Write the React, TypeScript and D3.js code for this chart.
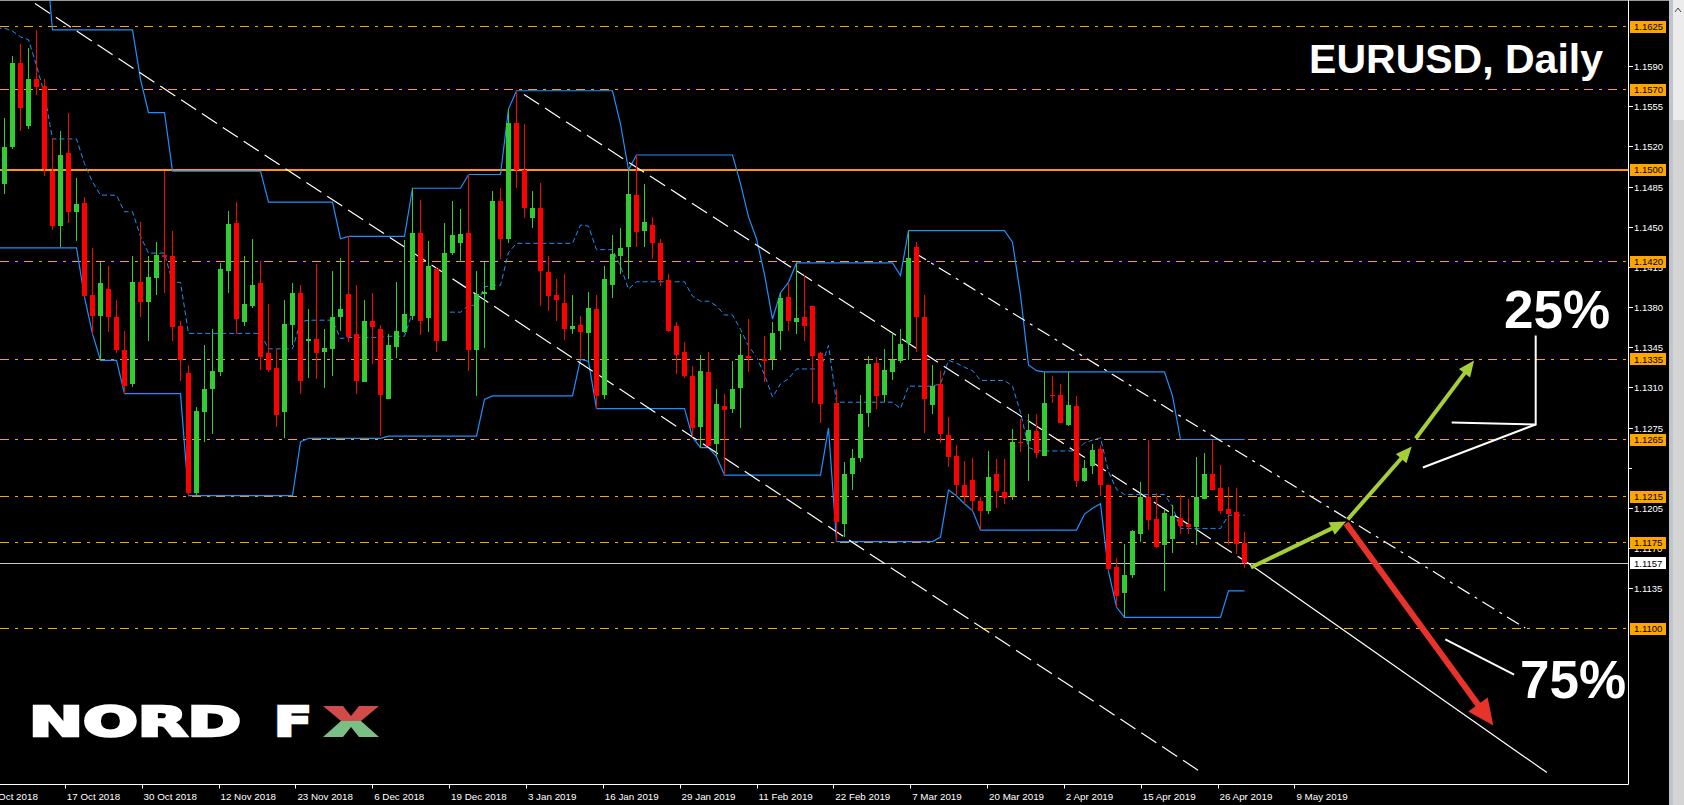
import React from "react";
import * as d3 from "d3";

const W = 1684;
const H = 805;

// Daily EURUSD bars. Index of the first element is FIRST_BAR (the first 12 bars are
// left of the visible area and only feed the 13-bar price channel).
const FIRST_BAR = -12;
const open = [
  1.1745, 1.175, 1.1765, 1.174, 1.164, 1.1605, 1.1575, 1.1548, 1.148, 1.1515, 1.1524, 1.149,
  1.1488, 1.152, 1.1593, 1.1538, 1.1579, 1.1573, 1.1499, 1.1451, 1.1515, 1.1463,
  1.1471, 1.1391, 1.1373, 1.1396, 1.1372, 1.1343, 1.1313, 1.1402, 1.1385, 1.1406,
  1.1426, 1.1425, 1.1364, 1.1323, 1.1218, 1.1289, 1.1309, 1.1324, 1.1412, 1.1454,
  1.1367, 1.1381, 1.1401, 1.134, 1.1327, 1.1289, 1.1365, 1.1393, 1.1351, 1.1353,
  1.1341, 1.1344, 1.1372, 1.1392, 1.1357, 1.1315, 1.1368, 1.1361, 1.13, 1.1346,
  1.1359, 1.1373, 1.1445, 1.1371, 1.1414, 1.1351, 1.1428, 1.1436, 1.1445, 1.1343,
  1.1392, 1.1395, 1.1473, 1.144, 1.1541, 1.15, 1.1458, 1.1467, 1.1411, 1.1391,
  1.1384, 1.1361, 1.1365, 1.1358, 1.1379, 1.1304, 1.14, 1.1425, 1.1433, 1.1478,
  1.1447, 1.1452, 1.1436, 1.1404, 1.1364, 1.1341, 1.132, 1.1276, 1.1324, 1.1261,
  1.1294, 1.1292, 1.131, 1.1338, 1.1337, 1.1335, 1.1335, 1.136, 1.1389, 1.1367,
  1.1372, 1.1381, 1.134, 1.1306, 1.1297, 1.1191, 1.1235, 1.1249, 1.1288, 1.1332,
  1.1304, 1.1324, 1.1333, 1.1349, 1.1433, 1.1372, 1.1295, 1.1313, 1.1269, 1.1251,
  1.1225, 1.123, 1.1211, 1.1203, 1.1235, 1.1219, 1.1216, 1.1263, 1.1264, 1.1272,
  1.1251, 1.1304, 1.1304, 1.1278, 1.1294, 1.1229, 1.1242, 1.1257, 1.1225, 1.1154,
  1.1131, 1.1147, 1.1183, 1.1215, 1.1196, 1.1173, 1.1178, 1.1197, 1.1191, 1.1189,
  1.1213, 1.1235, 1.1223, 1.1204, 1.1202, 1.1175,
];
const high = [
  1.1815, 1.181, 1.18, 1.1795, 1.175, 1.17, 1.16, 1.159, 1.153, 1.153, 1.1528, 1.15,
  1.1545, 1.1599, 1.161, 1.1606, 1.1622, 1.1579, 1.1528, 1.1534, 1.155, 1.1493,
  1.1476, 1.1432, 1.142, 1.1416, 1.1387, 1.136, 1.1425, 1.1455, 1.1425, 1.1437,
  1.1499, 1.1447, 1.1368, 1.133, 1.1293, 1.1347, 1.1361, 1.1419, 1.1464, 1.1472,
  1.1425, 1.144, 1.1421, 1.1383, 1.1344, 1.1387, 1.1401, 1.14, 1.1379, 1.1418,
  1.1361, 1.1412, 1.1423, 1.1442, 1.14, 1.1387, 1.1393, 1.1365, 1.1357, 1.1402,
  1.1439, 1.1484, 1.1474, 1.1438, 1.1415, 1.1454, 1.1473, 1.1466, 1.1496, 1.1412,
  1.142, 1.1482, 1.1484, 1.1553, 1.1569, 1.154, 1.1482, 1.1489, 1.1425, 1.1405,
  1.1409, 1.1391, 1.1373, 1.1394, 1.1391, 1.1416, 1.1443, 1.1449, 1.15, 1.1513,
  1.1488, 1.1459, 1.144, 1.1409, 1.1367, 1.135, 1.1329, 1.1339, 1.1341, 1.1309,
  1.1305, 1.1333, 1.1357, 1.137, 1.1365, 1.1355, 1.1367, 1.1393, 1.1402, 1.1419,
  1.1408, 1.1381, 1.1341, 1.1318, 1.1309, 1.1245, 1.1257, 1.1304, 1.1338, 1.1337,
  1.1344, 1.1358, 1.1361, 1.1447, 1.1437, 1.1391, 1.133, 1.1325, 1.1285, 1.126,
  1.1246, 1.1249, 1.1215, 1.1255, 1.1248, 1.1248, 1.1274, 1.1283, 1.1287, 1.1287,
  1.1324, 1.132, 1.1313, 1.1324, 1.1303, 1.1247, 1.1261, 1.126, 1.1225, 1.1162,
  1.1174, 1.1186, 1.1228, 1.1265, 1.1218, 1.1204, 1.1208, 1.1217, 1.1213, 1.125,
  1.1253, 1.1265, 1.1243, 1.1224, 1.1223, 1.1184,
];
const low = [
  1.1735, 1.1735, 1.1735, 1.164, 1.16, 1.157, 1.15, 1.146, 1.1463, 1.148, 1.144, 1.1432,
  1.1479, 1.1518, 1.1534, 1.1536, 1.1565, 1.1495, 1.1448, 1.1433, 1.1454, 1.1438,
  1.1389, 1.1357, 1.1334, 1.1359, 1.134, 1.1305, 1.1311, 1.1372, 1.1351, 1.1391,
  1.1393, 1.1351, 1.1316, 1.1216, 1.1216, 1.1263, 1.127, 1.132, 1.1393, 1.1357,
  1.1364, 1.138, 1.1326, 1.1324, 1.1276, 1.1266, 1.1347, 1.1305, 1.1319, 1.1318,
  1.131, 1.132, 1.136, 1.135, 1.1305, 1.1315, 1.1331, 1.1268, 1.13, 1.1336,
  1.1358, 1.1369, 1.1356, 1.1359, 1.1341, 1.1351, 1.1426, 1.142, 1.1325, 1.1303,
  1.1345, 1.1395, 1.1422, 1.1436, 1.1484, 1.1458, 1.1449, 1.1381, 1.1377, 1.1368,
  1.1352, 1.1357, 1.1335, 1.1333, 1.1292, 1.13, 1.1388, 1.1409, 1.1405, 1.1433,
  1.1433, 1.1422, 1.1399, 1.1359, 1.1322, 1.1319, 1.1267, 1.1258, 1.1259, 1.125,
  1.1234, 1.1288, 1.1275, 1.1324, 1.1325, 1.1315, 1.1326, 1.1343, 1.136, 1.1357,
  1.1351, 1.1297, 1.1279, 1.129, 1.1176, 1.118, 1.1221, 1.1245, 1.1276, 1.1292,
  1.1298, 1.1317, 1.1332, 1.1334, 1.1341, 1.1271, 1.1287, 1.1262, 1.1241, 1.1216,
  1.1209, 1.1203, 1.1186, 1.12, 1.1205, 1.1209, 1.1212, 1.1254, 1.1229, 1.1249,
  1.1251, 1.1297, 1.1279, 1.1277, 1.1224, 1.1228, 1.1235, 1.1216, 1.115, 1.1119,
  1.111, 1.1144, 1.1176, 1.1186, 1.117, 1.1133, 1.1166, 1.1183, 1.1183, 1.1173,
  1.1213, 1.1221, 1.12, 1.1173, 1.1165, 1.1153,
];
const close = [
  1.175, 1.1765, 1.174, 1.164, 1.1605, 1.1575, 1.1548, 1.148, 1.1515, 1.1524, 1.149, 1.149,
  1.152, 1.1593, 1.1554, 1.1579, 1.1572, 1.1501, 1.1451, 1.1513, 1.1463, 1.147,
  1.139, 1.1373, 1.1401, 1.1372, 1.1343, 1.1312, 1.1402, 1.1385, 1.1407, 1.1426,
  1.1424, 1.1363, 1.1334, 1.1218, 1.129, 1.1309, 1.1325, 1.1414, 1.1453, 1.137,
  1.1383, 1.14, 1.1337, 1.1326, 1.1286, 1.1366, 1.1393, 1.1316, 1.1353, 1.134,
  1.1345, 1.1372, 1.1379, 1.1354, 1.1316, 1.1368, 1.1363, 1.1304, 1.1347, 1.136,
  1.1374, 1.1445, 1.1368, 1.1416, 1.1351, 1.1428, 1.1443, 1.1444, 1.1343, 1.1392,
  1.1394, 1.1473, 1.144, 1.1541, 1.15, 1.1467, 1.1467, 1.1412, 1.139, 1.1387,
  1.1361, 1.1364, 1.1359, 1.138, 1.1303, 1.1405, 1.1427, 1.1432, 1.1479, 1.1446,
  1.1455, 1.1436, 1.1404, 1.136, 1.1339, 1.132, 1.1275, 1.1325, 1.1259, 1.1296,
  1.1291, 1.1309, 1.1339, 1.1336, 1.1337, 1.1333, 1.1358, 1.1388, 1.1368, 1.1371,
  1.1364, 1.1338, 1.1296, 1.1306, 1.1193, 1.1235, 1.1249, 1.1287, 1.1331, 1.1303,
  1.1326, 1.1334, 1.1348, 1.1423, 1.1372, 1.13, 1.1312, 1.127, 1.125, 1.1225,
  1.1216, 1.1211, 1.1203, 1.1232, 1.122, 1.1214, 1.1263, 1.1262, 1.1273, 1.1253,
  1.1297, 1.1303, 1.1279, 1.1295, 1.1229, 1.124, 1.1256, 1.1225, 1.1152, 1.1129,
  1.1147, 1.1185, 1.1215, 1.1195, 1.1171, 1.1201, 1.1198, 1.119, 1.1189, 1.1215,
  1.1235, 1.1221, 1.1203, 1.12, 1.1174, 1.1157,
];

const CHANNEL_PERIOD = 13;

const priceTicks = [1.159, 1.1555, 1.152, 1.1485, 1.145, 1.1415, 1.138, 1.1345, 1.131, 1.1275, 1.124, 1.1205, 1.117, 1.1135];
const levelLines = [1.1625, 1.157, 1.142, 1.1335, 1.1265, 1.1215, 1.1175, 1.11];
const solidLevel = 1.15;
const currentPrice = 1.1157;

const dateTickBars = [-2.07, 7.54, 17.14, 26.75, 36.36, 45.96, 55.57, 65.18, 74.79, 84.39, 94.0, 103.6, 113.21, 122.82, 132.42, 142.03, 151.63, 161.24];
const dateTickLabels = [
  "4 Oct 2018", "17 Oct 2018", "30 Oct 2018", "12 Nov 2018", "23 Nov 2018", "6 Dec 2018",
  "19 Dec 2018", "3 Jan 2019", "16 Jan 2019", "29 Jan 2019", "11 Feb 2019", "22 Feb 2019",
  "7 Mar 2019", "20 Mar 2019", "2 Apr 2019", "15 Apr 2019", "26 Apr 2019", "9 May 2019",
];

// Trend lines as [bar, price] end points
const dashedTrends: [number, number][][] = [
  [[3.81, 1.1645], [149.8, 1.0974]],
  [[64.94, 1.15657], [155.3, 1.1158]],
];
const solidTrends: [number, number][][] = [
  [[155.3, 1.1158], [192.8, 1.09747]],
];
const dashDotTrends: [number, number][][] = [
  [[113.7, 1.1428], [190.1, 1.11006]],
];

// Scenario arrows [bar, price] from -> to
const greenArrows: [number, number][][] = [
  [[155.8, 1.11534], [167.7, 1.11935]],
  [[167.9, 1.11953], [175.9, 1.12589]],
  [[176.4, 1.12659], [183.7, 1.13339]],
];
const redArrow: [number, number][] = [[167.7, 1.11918], [186.1, 1.10157]];
const bracket25: [number, number][] = [[191.4, 1.13556], [191.4, 1.12781], [177.3, 1.12406]];
const bracket25b: [number, number][] = [[191.4, 1.12781], [180.9, 1.12798]];
const line75: [number, number][] = [[180.1, 1.10907], [188.7, 1.10601]];

const PLOT_R = 1628.5;
const AXIS_Y = 784.5;

function Arrow({ p0, p1, color, width, headLen, headW }: any) {
  const [x0, y0] = p0;
  const [x1, y1] = p1;
  const dx = x1 - x0, dy = y1 - y0;
  const len = Math.hypot(dx, dy);
  const ux = dx / len, uy = dy / len;
  const bx = x1 - ux * headLen, by = y1 - uy * headLen;
  const px = -uy, py = ux;
  const pts = [
    [x1, y1],
    [bx + px * headW / 2, by + py * headW / 2],
    [bx - px * headW / 2, by - py * headW / 2],
  ];
  return (
    <g>
      <line x1={x0} y1={y0} x2={bx + ux * 2} y2={by + uy * 2} stroke={color} strokeWidth={width} />
      <polygon points={pts.map((p) => p.join(",")).join(" ")} fill={color} />
    </g>
  );
}

export default function App() {
  const x = d3.scaleLinear().domain([0, 1]).range([4.5, 12.5]);
  const y = d3.scaleLinear().domain([1.1625, 1.11]).range([26.5, 628.8]);

  const n = open.length;
  const bars = d3.range(n).map((k) => ({
    i: k + FIRST_BAR,
    o: open[k], h: high[k], l: low[k], c: close[k],
  }));

  const channel = bars
    .map((b, k) => {
      const from = Math.max(0, k - CHANNEL_PERIOD + 1);
      const up = d3.max(high.slice(from, k + 1)) as number;
      const dn = d3.min(low.slice(from, k + 1)) as number;
      return { i: b.i, up, dn, mid: (up + dn) / 2 };
    })
    .filter((d) => d.i >= -1);

  const lineUp = d3.line<any>().x((d) => x(d.i)).y((d) => y(d.up));
  const lineDn = d3.line<any>().x((d) => x(d.i)).y((d) => y(d.dn));
  const lineMid = d3.line<any>().x((d) => x(d.i)).y((d) => y(d.mid));
  const pt = (p: [number, number]) => [x(p[0]), y(p[1])];
  const path = (ps: [number, number][]) => d3.line()(ps.map(pt) as any) as string;

  const levelY = (v: number) => Math.round(y(v) - 0.5) + 0.5;

  const axisFont = "'Liberation Sans', Arial, sans-serif";
  const logoFont = "'DejaVu Sans', sans-serif";

  return (
    <svg width={W} height={H} style={{ position: "absolute", left: 0, top: 0, background: "#000" }}>
      <rect x={0} y={0} width={W} height={H} fill="#000" />
      <defs>
        <clipPath id="plot">
          <rect x={0} y={1} width={PLOT_R} height={AXIS_Y - 1} />
        </clipPath>
      </defs>

      <g clipPath="url(#plot)">
        {/* horizontal levels */}
        {levelLines.map((v) => (
          <line key={v} x1={0} x2={PLOT_R} y1={levelY(v)} y2={levelY(v)} stroke="#FFA500" strokeWidth={1} strokeDasharray="9,6,3,6" shapeRendering="crispEdges" />
        ))}
        <line x1={0} x2={PLOT_R} y1={y(solidLevel)} y2={y(solidLevel)} stroke="#FF9900" strokeWidth={2} shapeRendering="crispEdges" />
        <line x1={0} x2={PLOT_R} y1={levelY(currentPrice)} y2={levelY(currentPrice)} stroke="#C8C8C8" strokeWidth={1} shapeRendering="crispEdges" />

        {/* price channel */}
        <path d={lineUp(channel) as string} fill="none" stroke="#1E90FF" strokeWidth={1.2} />
        <path d={lineDn(channel) as string} fill="none" stroke="#1E90FF" strokeWidth={1.2} />
        <path d={lineMid(channel) as string} fill="none" stroke="#1E90FF" strokeWidth={1} strokeDasharray="5,3" />

        {/* trend lines */}
        {dashedTrends.map((t, k) => (
          <path key={"d" + k} d={path(t)} stroke="#FFFFFF" strokeWidth={1.2} strokeDasharray="18,7" fill="none" />
        ))}
        {solidTrends.map((t, k) => (
          <path key={"s" + k} d={path(t)} stroke="#FFFFFF" strokeWidth={1.2} fill="none" />
        ))}
        {dashDotTrends.map((t, k) => (
          <path key={"dd" + k} d={path(t)} stroke="#FFFFFF" strokeWidth={1.2} strokeDasharray="14,6,3,6" fill="none" />
        ))}

        {/* candles */}
        {bars.filter((b) => b.i >= -1).map((b) => {
          const up = b.c > b.o;
          const doji = b.c === b.o;
          const col = doji ? "#000" : up ? "#32CD32" : "#FF0000";
          const yt = Math.round(y(Math.max(b.o, b.c)));
          const yb = Math.round(y(Math.min(b.o, b.c)));
          return (
            <g key={b.i} shapeRendering="crispEdges">
              <line x1={x(b.i)} x2={x(b.i)} y1={Math.round(y(b.h))} y2={Math.round(y(b.l))} stroke={col} strokeWidth={1} />
              <rect x={x(b.i) - 2.5} y={yt} width={5} height={Math.max(1, yb - yt)} fill={col} />
            </g>
          );
        })}

        {/* scenario annotations */}
        {greenArrows.map((a, k) => (
          <Arrow key={"g" + k} p0={pt(a[0])} p1={pt(a[1])} color="#A6CE39" width={4} headLen={16} headW={14} />
        ))}
        <Arrow p0={pt(redArrow[0])} p1={pt(redArrow[1])} color="#E8332A" width={6} headLen={26} headW={24} />
        <path d={path(bracket25)} stroke="#FFFFFF" strokeWidth={2} fill="none" />
        <path d={path(bracket25b)} stroke="#FFFFFF" strokeWidth={2} fill="none" />
        <path d={path(line75)} stroke="#FFFFFF" strokeWidth={2} fill="none" />
      </g>

      {/* texts in plot */}
      <text x={1603} y={73} textAnchor="end" fill="#FFFFFF" fontFamily={axisFont} fontWeight="bold" fontSize={41}>EURUSD, Daily</text>
      <text x={1504} y={328} fill="#FFFFFF" fontFamily={axisFont} fontWeight="bold" fontSize={53}>25%</text>
      <text x={1520} y={698} fill="#FFFFFF" fontFamily={axisFont} fontWeight="bold" fontSize={53}>75%</text>

      {/* logo */}
      <text x={29} y={736} fill="#FFFFFF" stroke="#FFFFFF" strokeWidth={2.6} strokeLinejoin="miter" fontFamily={logoFont} fontWeight="bold" fontSize={40} textLength={212} lengthAdjust="spacingAndGlyphs">NORD</text>
      <text x={274} y={736} fill="#FFFFFF" stroke="#FFFFFF" strokeWidth={2.6} fontFamily={logoFont} fontWeight="bold" fontSize={40} textLength={38} lengthAdjust="spacingAndGlyphs">F</text>
      <g>
        <path d="M323,706 L343,706 L351,716 L359,706 L379,706 L361,721 L341,721 Z" fill="#D14B4B" />
        <path d="M323,737 L343,737 L351,727 L359,737 L379,737 L361,721 L341,721 Z" fill="#7BBE86" />
      </g>

      {/* frame */}
      <line x1={0} x2={1669} y1={0.5} y2={0.5} stroke="#9a9a9a" />
      <line x1={PLOT_R} x2={PLOT_R} y1={0} y2={AXIS_Y} stroke="#FFFFFF" />
      <line x1={0} x2={PLOT_R} y1={AXIS_Y} y2={AXIS_Y} stroke="#FFFFFF" />

      {/* price axis labels */}
      {priceTicks.map((v) => (
        <g key={v}>
          <line x1={PLOT_R} x2={PLOT_R + 4} y1={levelY(v)} y2={levelY(v)} stroke="#FFFFFF" shapeRendering="crispEdges" />
          <text x={1634} y={y(v) + 3.5} fill="#FFFFFF" fontFamily={axisFont} fontSize={9.5}>{v.toFixed(4)}</text>
        </g>
      ))}
      <rect x={1632} y={levelY(1.124) - 2.5} width={36} height={12} fill="#000" />
      {[...levelLines, solidLevel].map((v) => (
        <g key={"b" + v}>
          <rect x={1630} y={Math.round(y(v)) - 6} width={36} height={12} fill="#FFA500" />
          <text x={1634} y={y(v) + 3.5} fill="#000" fontFamily={axisFont} fontSize={9.5}>{v.toFixed(4)}</text>
        </g>
      ))}
      <rect x={1630} y={Math.round(y(currentPrice)) - 6} width={36} height={12} fill="#FFFFFF" />
      <text x={1634} y={y(currentPrice) + 3.5} fill="#000" fontFamily={axisFont} fontSize={9.5}>{currentPrice.toFixed(4)}</text>

      {/* date axis */}
      {dateTickBars.map((b, k) => (
        <g key={"t" + k}>
          <line x1={Math.round(x(b)) + 0.5} x2={Math.round(x(b)) + 0.5} y1={AXIS_Y} y2={AXIS_Y + 4} stroke="#FFFFFF" />
          <text x={x(b) + 2} y={800} fill="#FFFFFF" fontFamily={axisFont} fontSize={9.8}>{dateTickLabels[k]}</text>
        </g>
      ))}

      {/* scrollbar strip */}
      <rect x={1669} y={0} width={15} height={H} fill="#d4d4d4" />
      <rect x={1669} y={0} width={4} height={H} fill="#c0c4cc" />
      <rect x={1673} y={0} width={11} height={120} fill="#ececec" />
      <path d="M1675,12 L1678,8 L1681,12" stroke="#444" fill="none" />
    </svg>
  );
}
